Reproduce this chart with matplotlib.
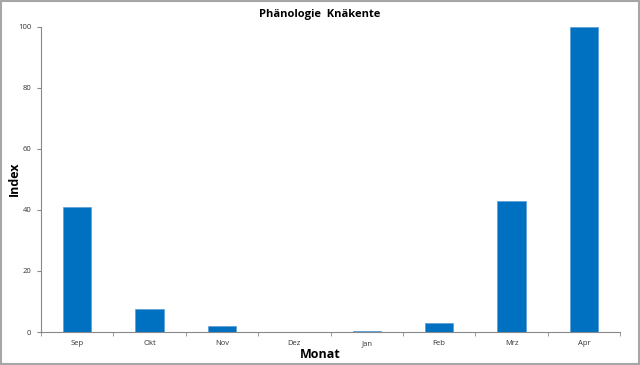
import matplotlib.pyplot as plt
from matplotlib.patches import Rectangle

months = ['Sep', 'Okt', 'Nov', 'Dez', 'Jan', 'Feb', 'Mrz', 'Apr']
index_values = [41, 7.5, 2, 0, 0.3, 3, 43, 100]

plt.rcParams['font.family'] = ['Open Sans', 'DejaVu Sans']

fig = plt.figure(figsize=(6.4, 3.65), dpi=100)
ax = fig.add_axes([0.064, 0.0904, 0.905, 0.836])

x = range(len(months))
ax.bar(x, index_values, width=0.39, color='#0070C0', edgecolor='#5B9BD5', linewidth=0.5)

ax.set_xlim(-0.5, len(months) - 0.5)
ax.set_ylim(0, 100)
ax.set_yticks([0, 20, 40, 60, 80, 100])
ax.set_xticks(list(x))
ax.set_xticklabels(months)
ax.set_xticks([i - 0.5 for i in range(len(months) + 1)], minor=True)
ax.tick_params(axis='x', which='major', length=0, labelsize=5.5, pad=6, colors='#333333')
ax.tick_params(axis='x', which='minor', length=3, color='#888888')
ax.tick_params(axis='y', length=3, labelsize=5.5, color='#888888', labelcolor='#333333', pad=4)

for side in ['top', 'right']:
    ax.spines[side].set_visible(False)
for side in ['left', 'bottom']:
    ax.spines[side].set_color('#888888')
    ax.spines[side].set_linewidth(0.8)

fig.text(0.5, 0.959, 'Phänologie  Knäkente', ha='center', va='center', fontsize=8, fontweight='bold')
fig.text(0.5, 0.03, 'Monat', ha='center', va='center', fontsize=9, fontweight='bold')
fig.text(0.022, 0.51, 'Index', ha='center', va='center', fontsize=9, fontweight='bold', rotation=90)

fig.patches.append(Rectangle((0.001, 0.002), 0.997, 0.995, transform=fig.transFigure,
                             fill=False, edgecolor='#A6A6A6', linewidth=1.5))

fig.savefig('out.png', dpi=100)
